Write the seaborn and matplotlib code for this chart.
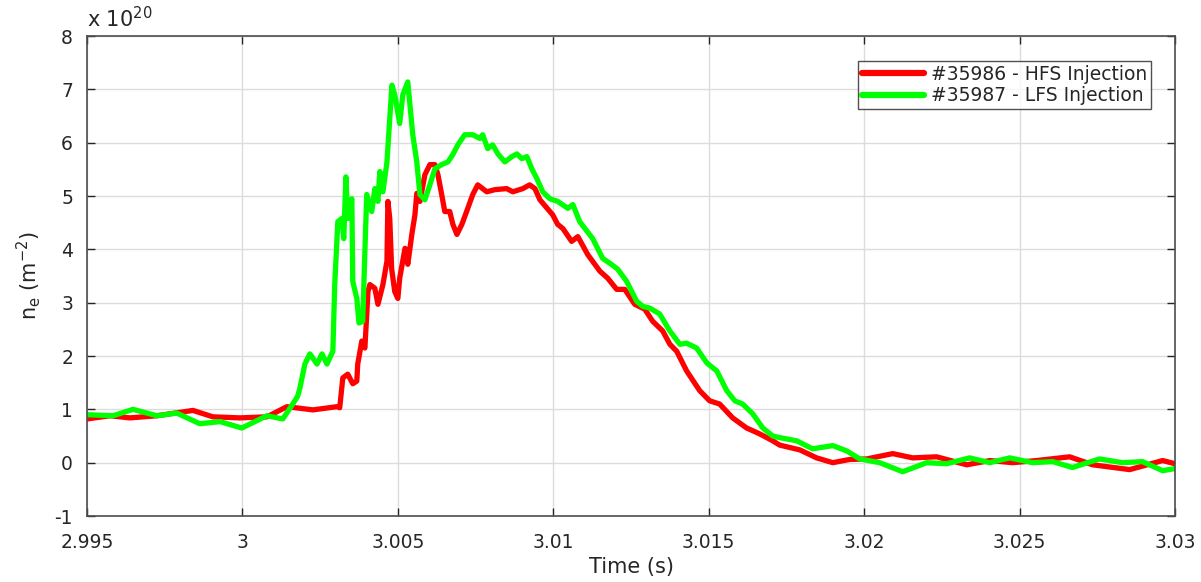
import numpy as np
import pandas as pd
import matplotlib
matplotlib.use('Agg')
import matplotlib.pyplot as plt
import seaborn as sns

# Shot #35986 - HFS injection (time in s, density in 1e20 m^-2)
t_hfs = [2.995, 2.99574, 2.99638, 2.99725, 2.99841, 2.99905, 2.99992, 3.00079,
         3.00143, 3.00227, 3.00304, 3.00313, 3.00323, 3.00339, 3.00355, 3.00368,
         3.00371, 3.00384, 3.00394, 3.00404, 3.0041, 3.00426, 3.00436, 3.00452,
         3.00465, 3.00468, 3.00474, 3.0048, 3.0049, 3.005, 3.00506, 3.00523,
         3.00532, 3.00545, 3.00555, 3.00561, 3.00571, 3.00587, 3.00603, 3.00619,
         3.00629, 3.00641, 3.00651, 3.00667, 3.00677, 3.0069, 3.00706, 3.00725,
         3.00741, 3.00757, 3.00786, 3.00812, 3.0085, 3.0087, 3.00902, 3.00924,
         3.00941, 3.00957, 3.00989, 3.00998, 3.01014, 3.01031, 3.01059, 3.01079,
         3.01111, 3.0115, 3.01175, 3.01204, 3.0123, 3.01262, 3.01294, 3.0132,
         3.01352, 3.01375, 3.01397, 3.01429, 3.01471, 3.01503, 3.01535, 3.01577,
         3.01622, 3.01664, 3.01706, 3.01728, 3.01793, 3.01847, 3.01899, 3.01953,
         3.02008, 3.02092, 3.02156, 3.02233, 3.0233, 3.02404, 3.02477, 3.02555,
         3.02661, 3.02735, 3.02854, 3.0296, 3.03]
ne_hfs = [0.82, 0.88, 0.84, 0.88, 0.98, 0.86, 0.84, 0.86,
          1.05, 0.99, 1.05, 1.03, 1.59, 1.66, 1.48, 1.53,
          1.85, 2.28, 2.15, 3.21, 3.34, 3.27, 2.97, 3.34,
          3.78, 4.9, 4.58, 3.64, 3.21, 3.08, 3.46, 4.02,
          3.72, 4.28, 4.65, 5.05, 4.9, 5.4, 5.59, 5.59,
          5.4, 5.03, 4.71, 4.71, 4.47, 4.28, 4.47, 4.77,
          5.03, 5.21, 5.08, 5.12, 5.14, 5.08, 5.14, 5.21,
          5.14, 4.93, 4.71, 4.65, 4.47, 4.39, 4.15, 4.24,
          3.9, 3.59, 3.46, 3.25, 3.25, 2.97, 2.88, 2.65,
          2.47, 2.22, 2.09, 1.72, 1.35, 1.16, 1.1, 0.84,
          0.65, 0.54, 0.41, 0.33, 0.24, 0.09, 0.0, 0.06,
          0.07, 0.17, 0.09, 0.11, -0.04, 0.04, 0.0, 0.04,
          0.11, -0.04, -0.13, 0.04, -0.02]

# Shot #35987 - LFS injection
t_lfs = [2.995, 2.99584, 2.99648, 2.99725, 2.99789, 2.99863, 2.99928, 2.99998,
         3.00079, 3.0013, 3.00162, 3.00178, 3.00185, 3.00201, 3.00217, 3.0024,
         3.00256, 3.00272, 3.00291, 3.00297, 3.00307, 3.0032, 3.00326, 3.00333,
         3.00339, 3.00352, 3.00355, 3.00368, 3.00375, 3.00387, 3.00394, 3.004,
         3.00416, 3.00426, 3.00436, 3.00442, 3.00452, 3.00465, 3.00481, 3.0049,
         3.00506, 3.00516, 3.00532, 3.00548, 3.00561, 3.00571, 3.00587, 3.00603,
         3.00619, 3.00641, 3.00661, 3.00677, 3.00693, 3.00715, 3.00741, 3.00764,
         3.00773, 3.00789, 3.00805, 3.00822, 3.00844, 3.00867, 3.00883, 3.00899,
         3.00915, 3.00931, 3.00947, 3.00966, 3.00989, 3.01014, 3.01047, 3.01063,
         3.01085, 3.01127, 3.01159, 3.01182, 3.01207, 3.01236, 3.01268, 3.01288,
         3.0131, 3.01342, 3.01375, 3.01407, 3.01429, 3.01461, 3.01494, 3.01526,
         3.01558, 3.01584, 3.01609, 3.01641, 3.01674, 3.01706, 3.01728, 3.01783,
         3.01834, 3.01899, 3.01944, 3.01986, 3.0205, 3.02124, 3.02201, 3.02265,
         3.02339, 3.02404, 3.02468, 3.02542, 3.02606, 3.0267, 3.02757, 3.02831,
         3.02895, 3.0296, 3.03]
ne_lfs = [0.9, 0.88, 1.0, 0.88, 0.93, 0.73, 0.77, 0.65,
          0.88, 0.82, 1.1, 1.25, 1.4, 1.85, 2.04, 1.85,
          2.04, 1.85, 2.09, 3.34, 4.52, 4.58, 4.2, 5.36,
          4.58, 4.95, 3.4, 3.08, 2.62, 2.65, 3.96, 5.03,
          4.71, 5.14, 4.9, 5.46, 5.08, 5.64, 7.08, 6.9,
          6.36, 6.9, 7.14, 6.15, 5.64, 5.03, 4.93, 5.21,
          5.51, 5.59, 5.64, 5.78, 5.96, 6.15, 6.15, 6.08,
          6.15, 5.89, 5.96, 5.79, 5.64, 5.74, 5.79, 5.7,
          5.74, 5.51, 5.33, 5.08, 4.95, 4.9, 4.77, 4.84,
          4.52, 4.2, 3.83, 3.74, 3.63, 3.4, 3.03, 2.93,
          2.9, 2.79, 2.47, 2.22, 2.24, 2.15, 1.87, 1.72,
          1.35, 1.16, 1.1, 0.92, 0.65, 0.5, 0.47, 0.41,
          0.26, 0.32, 0.22, 0.07, 0.0, -0.17, 0.0, -0.02,
          0.09, 0.0, 0.09, 0.0, 0.02, -0.09, 0.07, 0.0,
          0.02, -0.15, -0.11]

labels = ['#35986 - HFS Injection', '#35987 - LFS Injection']
colors = ['#ff0000', '#00ff00']
xtick_vals = [2.995, 3.0, 3.005, 3.01, 3.015, 3.02, 3.025, 3.03]
xtick_text = ['2.995', '3', '3.005', '3.01', '3.015', '3.02', '3.025', '3.03']

df = pd.concat([
    pd.DataFrame({'t': t_hfs, 'ne': ne_hfs, 'shot': labels[0]}),
    pd.DataFrame({'t': t_lfs, 'ne': ne_lfs, 'shot': labels[1]}),
])

sns.set_style('white')
plt.rcParams['font.family'] = ['DejaVu Sans']
plt.rcParams['axes.unicode_minus'] = False

fig = plt.figure(figsize=(12.01, 5.82), dpi=100)
ax = fig.add_axes([0.0724, 0.1134, 0.906, 0.8246])

sns.lineplot(data=df, x='t', y='ne', hue='shot', palette=colors,
             estimator=None, sort=False, linewidth=3.8, ax=ax)

ax.set_xlim(2.995, 3.03)
ax.set_ylim(-1, 8)
ax.set_xticks(xtick_vals)
ax.set_xticklabels(xtick_text)
ax.set_yticks(range(-1, 9))
ax.grid(True, color='#dcdcdc', linewidth=1)
ax.tick_params(direction='in', length=6, width=1, colors='#262626',
               labelsize=13.5, top=True, right=True, bottom=True, left=True)
ax.tick_params(axis='x', pad=12)
ax.tick_params(axis='y', pad=10)
for s in ax.spines.values():
    s.set_color('#4d4d4d')
    s.set_linewidth(1.2)

ax.set_xlabel('Time (s)', fontsize=15, color='#262626', labelpad=4)
ax.set_ylabel(r'n$_\mathrm{e}$ (m$^{-2}$)', fontsize=15, color='#262626', labelpad=8)
ax.text(0.0, 1.01, r'x 10$^{20}$', transform=ax.transAxes, fontsize=15,
        color='#262626', ha='left', va='bottom')

leg = ax.legend(loc='upper right', bbox_to_anchor=(0.9835, 0.96), fontsize=13.5,
                frameon=True, fancybox=False, edgecolor='#262626',
                handlelength=3.3, borderpad=0.2, labelspacing=0.15, handletextpad=0.4,
                borderaxespad=0.3)
leg.get_frame().set_linewidth(1)
for h in leg.get_lines():
    h.set_linewidth(4.5)

fig.savefig('out.png', dpi=100)
